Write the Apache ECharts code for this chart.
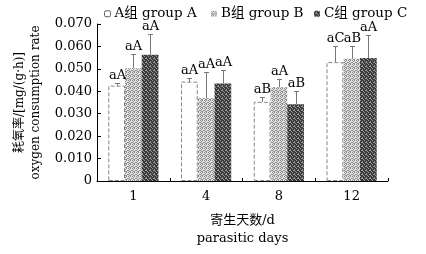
<!DOCTYPE html>
<html><head><meta charset="utf-8">
<script src="https://cdn.jsdelivr.net/npm/echarts@6/dist/echarts.min.js"></script>
<style>html,body{margin:0;padding:0;background:#fff}#c{width:426px;height:254px}</style>
</head><body><div id="c"></div>
<script>
const categories = ['1', '4', '8', '12'];
const seriesNames = ['A组 group A', 'B组 group B', 'C组 group C'];
const groupA = [0.0425, 0.0443, 0.0353, 0.0530];
const groupB = [0.0503, 0.0369, 0.0418, 0.0545];
const groupC = [0.0563, 0.0435, 0.0342, 0.0548];
const errA = [0.0010, 0.0018, 0.0020, 0.0070];
const errB = [0.0064, 0.0116, 0.0037, 0.0055];
const errC = [0.0094, 0.0060, 0.0060, 0.0104];
const sigA = ['aA', 'aA', 'aB', 'aC'];
const sigB = ['aA', 'aA', 'aA', 'aB'];
const sigC = ['aA', 'aA', 'aB', 'aA'];
const yTicks = [0, 0.01, 0.02, 0.03, 0.04, 0.05, 0.06, 0.07];

const FONT = "'DejaVu Serif', 'Noto Sans CJK SC', serif";

function pattern(bg, fg, cells) {
  const cv = document.createElement('canvas');
  cv.width = 4; cv.height = 4;
  const ctx = cv.getContext('2d');
  ctx.fillStyle = bg; ctx.fillRect(0, 0, 4, 4);
  ctx.fillStyle = fg;
  cells.forEach(p => ctx.fillRect(p[0], p[1], 1, 1));
  return { image: cv, repeat: 'repeat' };
}
const patB = pattern('#e4e4e4', '#8a8a8a', [[0,0],[2,0],[1,1],[3,2],[0,2],[2,3],[1,3]]);
const patC = pattern('#3a3a3a', '#9a9a9a', [[0,0],[2,1],[1,2],[3,3],[2,2]]);

const means = [groupA, groupB, groupC];
const errs = [errA, errB, errC];
const sigs = [sigA, sigB, sigC];
const GAP = 0.31;

function makeRender(k) {
  return function (params, api) {
    const cat = api.value(0), v = api.value(1), e = api.value(2);
    const c = api.coord([cat, v]);
    const band = api.size([1, 0])[0];
    const bw = band * (1 - GAP) / 3;
    const x = Math.round(c[0] + (k - 1) * bw) + 0.5;
    const yTop = Math.round(api.coord([cat, v + e])[1]) + 0.5;
    const yBar = c[1];
    return {
      type: 'group',
      children: [
        { type: 'line', shape: { x1: x, y1: yBar, x2: x, y2: yTop }, style: { stroke: '#777', lineWidth: 1 } },
        { type: 'line', shape: { x1: x - 2.5, y1: yTop, x2: x + 2.5, y2: yTop }, style: { stroke: '#777', lineWidth: 1 } },
        { type: 'text', x: x, y: yTop - 1, style: { text: sigs[k][params.dataIndex], textAlign: 'center', textVerticalAlign: 'bottom', fontFamily: FONT, fontSize: 13, fill: '#000' } }
      ]
    };
  };
}

const barColors = ['#ffffff', patB, patC];
const series = [];
for (let k = 0; k < 3; k++) {
  series.push({
    name: seriesNames[k], type: 'bar', data: means[k],
    barGap: '0%', barCategoryGap: (GAP * 100) + '%',
    itemStyle: k === 0 ? { color: '#fff', borderColor: '#888', borderType: 'dashed', borderWidth: 1 } : { color: barColors[k] },
    emphasis: { disabled: true }, silent: true
  });
}
for (let k = 0; k < 3; k++) {
  series.push({
    type: 'custom', name: 'err' + k, silent: true, z: 5,
    renderItem: makeRender(k),
    encode: { x: 0, y: 1 },
    data: categories.map((c, i) => [i, means[k][i], errs[k][i]])
  });
}

const legendBase = { top: 7, itemWidth: 6, itemHeight: 6, padding: 0, itemGap: 4,
  textStyle: { fontFamily: FONT, fontSize: 13.5, color: '#000', padding: [0, 0, 0, -1] } };
const chart = echarts.init(document.getElementById('c'), null, { renderer: 'canvas' });
chart.setOption({
  animation: false,
  backgroundColor: '#fff',
  legend: [
    Object.assign({}, legendBase, { left: 104, data: [{ name: seriesNames[0], itemStyle: { color: '#fff', borderColor: '#666', borderWidth: 1, borderType: 'solid' } }] }),
    Object.assign({}, legendBase, { left: 211, data: [{ name: seriesNames[1] }] }),
    Object.assign({}, legendBase, { left: 314, data: [{ name: seriesNames[2] }] })
  ],
  grid: { left: 97, right: 38, top: 24, bottom: 73, containLabel: false },
  xAxis: {
    type: 'category', data: categories,
    axisLine: { lineStyle: { color: '#000', width: 1 } },
    axisTick: { show: true, inside: true, length: 3, lineStyle: { color: '#000' } },
    axisLabel: { color: '#000', fontFamily: FONT, fontSize: 13, margin: 9 },
    name: '寄生天数/d\nparasitic days', nameLocation: 'middle', nameGap: 31,
    nameTextStyle: { fontFamily: FONT, fontSize: 13, color: '#000', lineHeight: 18 }
  },
  yAxis: {
    type: 'value', min: 0, max: 0.07, interval: 0.01,
    axisLine: { show: true, lineStyle: { color: '#000', width: 1 } },
    axisTick: { show: true, inside: true, length: 4, lineStyle: { color: '#000' } },
    splitLine: { show: false },
    axisLabel: { color: '#000', fontFamily: FONT, fontSize: 13, margin: 5,
      formatter: v => (Math.abs(v) < 1e-9 ? '0' : yTicks.find(t => Math.abs(t - v) < 1e-9).toFixed(3)) },
    name: '耗氧率/[mg/(g·h)]\noxygen consumption rate', nameLocation: 'middle', nameRotate: 90, nameGap: 52,
    nameTextStyle: { fontFamily: FONT, fontSize: 12, color: '#000', lineHeight: 16 }
  },
  series: series
});
</script></body></html>
